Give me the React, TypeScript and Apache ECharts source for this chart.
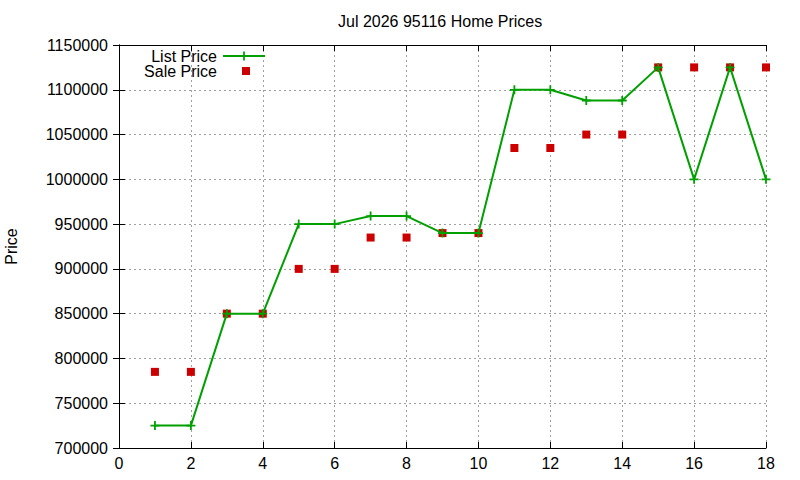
import { useEffect, useRef } from 'react';
import * as echarts from 'echarts';

// values
const xValues = [1, 2, 3, 4, 5, 6, 7, 8, 9, 10, 11, 12, 13, 14, 15, 16, 17, 18];
const listPrices = [
  725000, 725000, 850000, 850000, 950000, 950000, 959000, 959000, 940000,
  940000, 1100000, 1100000, 1088000, 1088000, 1125000, 1000000, 1125000, 1000000
];
const salePrices = [
  785000, 785000, 850000, 850000, 900000, 900000, 935000, 935000, 940000,
  940000, 1035000, 1035000, 1050000, 1050000, 1125000, 1125000, 1125000, 1125000
];

const FONT = 'Liberation Sans, Arial, sans-serif';
const GREEN = '#00a000';
const RED = '#cc0000';
const PLUS = 'path://M4,0 H6 V4 H10 V6 H6 V10 H4 V6 H0 V4 H4 Z';

export default function App() {
  const chartRef = useRef<HTMLDivElement>(null);

  useEffect(() => {
    if (!chartRef.current) return;
    const chart = echarts.init(chartRef.current, null, { renderer: 'svg' });

    const gridLine = {
      show: true,
      lineStyle: { color: '#a0a0a0', width: 1, type: [2, 3] as number[] }
    };
    const border = { show: true, lineStyle: { color: '#000', width: 1 } };
    const tick = { show: true, inside: true, length: 6, lineStyle: { color: '#000' } };

    chart.setOption({
      animation: false,
      textStyle: { fontFamily: FONT },
      title: {
        text: 'Jul 2026 95116 Home Prices',
        left: 338,
        top: 13,
        padding: 0,
        textStyle: { fontFamily: FONT, fontSize: 16, fontWeight: 'normal', color: '#000' }
      },
      legend: [
        {
          data: ['List Price'],
          right: 534,
          top: 48,
          padding: 0,
          align: 'right',
          itemWidth: 42,
          itemHeight: 11,
          textStyle: { fontFamily: FONT, fontSize: 16, lineHeight: 14, color: '#000', padding: [0, 1, 0, 0] }
        },
        {
          data: ['Sale Price'],
          right: 550,
          top: 63,
          padding: 0,
          align: 'right',
          itemWidth: 8,
          itemHeight: 8,
          icon: 'rect',
          itemStyle: { opacity: 1 },
          textStyle: { fontFamily: FONT, fontSize: 16, lineHeight: 14, color: '#000', padding: [0, 20, 0, 0] }
        }
      ],
      grid: {
        left: 119,
        right: 34,
        top: 45,
        bottom: 32,
        containLabel: false,
        outerBoundsMode: 'none'
      },
      xAxis: [
        {
          type: 'value',
          min: 0,
          max: 18,
          interval: 2,
          axisLine: border,
          axisTick: tick,
          splitLine: gridLine,
          axisLabel: { fontFamily: FONT, fontSize: 16, color: '#000', margin: 7 }
        },
        {
          type: 'value',
          position: 'top',
          min: 0,
          max: 18,
          interval: 2,
          axisLine: border,
          axisTick: tick,
          splitLine: { show: false },
          axisLabel: { show: false }
        }
      ],
      yAxis: [
        {
          type: 'value',
          min: 700000,
          max: 1150000,
          interval: 50000,
          name: 'Price',
          nameLocation: 'middle',
          nameRotate: 90,
          nameGap: 100,
          nameTextStyle: { fontFamily: FONT, fontSize: 16, color: '#000' },
          axisLine: border,
          axisTick: tick,
          splitLine: gridLine,
          axisLabel: {
            fontFamily: FONT,
            fontSize: 16,
            color: '#000',
            margin: 11,
            formatter: (v: number) => String(v)
          }
        },
        {
          type: 'value',
          position: 'right',
          min: 700000,
          max: 1150000,
          interval: 50000,
          axisLine: border,
          axisTick: tick,
          splitLine: { show: false },
          axisLabel: { show: false }
        }
      ],
      series: [
        {
          name: 'List Price',
          type: 'line',
          xAxisIndex: 0,
          yAxisIndex: 0,
          data: xValues.map((x, i) => [x, listPrices[i]]),
          symbol: PLUS,
          symbolSize: 9,
          showAllSymbol: true,
          lineStyle: { color: GREEN, width: 2 },
          itemStyle: { color: GREEN }
        },
        {
          name: 'Sale Price',
          type: 'scatter',
          xAxisIndex: 0,
          yAxisIndex: 0,
          data: xValues.map((x, i) => [x, salePrices[i]]),
          symbol: 'rect',
          symbolSize: 8,
          itemStyle: { color: RED, opacity: 1 }
        }
      ]
    });

    return () => {
      chart.dispose();
    };
  }, []);

  return (
    <div
      ref={chartRef}
      style={{ position: 'fixed', left: 0, top: 0, width: 800, height: 480, background: '#fff' }}
    />
  );
}
